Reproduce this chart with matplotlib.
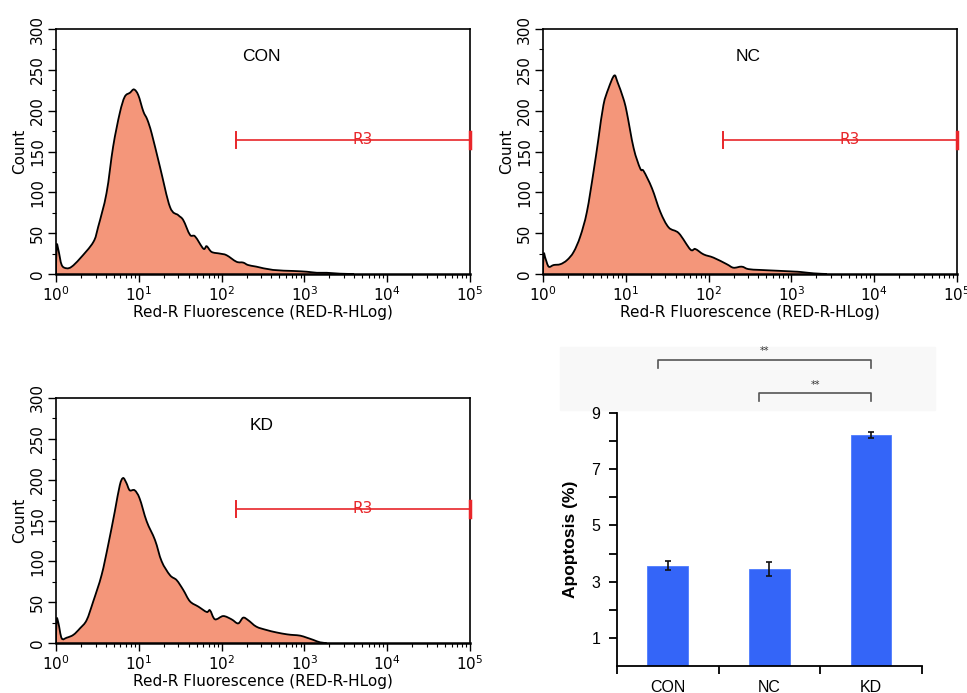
import numpy as np
import matplotlib
matplotlib.use("Agg")
import matplotlib.pyplot as plt
from matplotlib.ticker import FixedLocator, NullFormatter, LogLocator
from matplotlib.patches import Rectangle, PathPatch
from matplotlib.path import Path

# ---------------- data ----------------
samples = ["CON", "NC", "KD"]

con_logx = [0.0, 0.008, 0.03, 0.069, 0.129, 0.19, 0.29, 0.45, 0.51, 0.61, 0.69, 0.77, 0.83,
            0.894, 0.942, 0.994, 1.055, 1.103, 1.156, 1.256, 1.377, 1.477, 1.537, 1.618,
            1.68, 1.78, 1.82, 1.88, 1.98, 2.06, 2.18, 2.26, 2.32, 2.42, 2.62, 2.87, 3.03,
            3.15, 3.27, 3.43, 3.6]
con_count = [0, 35, 29, 11, 7, 9, 19, 39, 58, 99, 156, 197, 217,
             222, 226, 219, 199, 189, 172, 131, 82, 72, 66, 48,
             46, 31, 34, 27, 25, 23, 15, 14, 11, 9, 5, 3.7, 2.8,
             1.5, 1.5, 0.4, 0]

nc_logx = [0.0, 0.008, 0.03, 0.069, 0.129, 0.21, 0.29, 0.37, 0.45, 0.53, 0.61, 0.67, 0.73,
           0.79, 0.86, 0.90, 0.97, 1.01, 1.095, 1.175, 1.216, 1.316, 1.417, 1.518, 1.64,
           1.78, 1.84, 1.94, 2.06, 2.22, 2.30, 2.40, 2.48, 2.62, 2.83, 3.03, 3.11, 3.27,
           3.43]
nc_count = [0, 25, 19, 9, 11, 12, 17, 27, 46, 76, 125, 166, 207,
            227, 243, 235, 215, 199, 154, 129, 126, 105, 76, 57, 50,
            30, 30.6, 24, 20, 12, 7.7, 9, 6, 5, 4, 3, 2.5, 0.8,
            0]

kd_logx = [0.0, 0.008, 0.03, 0.069, 0.129, 0.21, 0.29, 0.37, 0.45, 0.55, 0.63, 0.71, 0.77,
           0.81, 0.85, 0.89, 0.95, 1.01, 1.095, 1.196, 1.276, 1.377, 1.457, 1.537, 1.618,
           1.72, 1.82, 1.86, 1.92, 2.02, 2.12, 2.20, 2.26, 2.32, 2.42, 2.54, 2.66, 2.79,
           2.87, 2.95, 3.03, 3.11, 3.19, 3.27]
kd_count = [0, 29, 24, 5.7, 6.5, 10, 18, 28, 51, 83, 120, 161, 193,
            202, 196, 187, 187, 177, 149, 126, 100, 83, 77, 65, 51,
            44.5, 38, 40, 29, 33, 29, 24, 31, 28, 20, 16, 13, 10.6,
            9.8, 9, 6.5, 3.7, 0.8, 0]

hist_logx = [con_logx, nc_logx, kd_logx]
hist_count = [con_count, nc_count, kd_count]

gate_name = "R3"
gate_range = [148, 1e5]
gate_level = 164

groups = ["CON", "NC", "KD"]
apoptosis = [3.57, 3.44, 8.21]
apoptosis_err = [0.16, 0.25, 0.11]
sig_pairs = [(0, 2), (1, 2)]
sig_labels = ["**", "**"]

# ---------------- figure ----------------
W, H = 967, 693
fig = plt.figure(figsize=(W / 100, H / 100), dpi=100)
plt.rcParams['font.family'] = ['DejaVu Sans']


def fx(px):
    return px / W


def fy(py):
    return 1 - py / H


def smooth_path(lx, cy, closed_fill):
    """Catmull-Rom curve through the read points, expressed as cubic Bezier
    segments (computed in log-x space, drawn on the log axis)."""
    lx = np.asarray(lx, float)
    cy = np.asarray(cy, float)
    n = len(lx)
    verts = [(10 ** lx[0], cy[0])]
    codes = [Path.MOVETO]
    for k in range(n - 1):
        p0 = np.array([lx[max(k - 1, 0)], cy[max(k - 1, 0)]])
        p1 = np.array([lx[k], cy[k]])
        p2 = np.array([lx[k + 1], cy[k + 1]])
        p3 = np.array([lx[min(k + 2, n - 1)], cy[min(k + 2, n - 1)]])
        c1 = p1 + (p2 - p0) / 6.0
        c2 = p2 - (p3 - p1) / 6.0
        c1[1] = max(c1[1], 0)
        c2[1] = max(c2[1], 0)
        for c in (c1, c2, p2):
            verts.append((10 ** c[0], c[1]))
            codes.append(Path.CURVE4)
    if closed_fill:
        verts.append((10 ** lx[0], 0))
        codes.append(Path.LINETO)
        verts.append((10 ** lx[0], 0))
        codes.append(Path.CLOSEPOLY)
    return Path(verts, codes)


fill_col = "#F4967A"
gate_col = "#E8262A"

hist_boxes = [(56, 29, 470, 274), (543, 29, 957, 274), (56, 398, 470, 643)]

for i, (l, t, r, b) in enumerate(hist_boxes):
    ax = fig.add_axes([fx(l), fy(b), fx(r - l), fy(t) - fy(b)])
    ax.set_xscale("log")
    ax.set_xlim(1, 1e5)
    ax.set_ylim(0, 300)
    ax.add_patch(PathPatch(smooth_path(hist_logx[i], hist_count[i], True),
                           facecolor=fill_col, edgecolor="none", zorder=1))
    ax.add_patch(PathPatch(smooth_path(hist_logx[i], hist_count[i], False),
                           facecolor="none", edgecolor="black", lw=1.3, zorder=2))
    ax.set_yticks([0, 50, 100, 150, 200, 250, 300])
    ax.yaxis.set_minor_locator(FixedLocator(np.arange(0, 301, 25)))
    ax.xaxis.set_major_locator(LogLocator(base=10, numticks=10))
    ax.xaxis.set_minor_locator(LogLocator(base=10, subs=np.arange(2, 10), numticks=20))
    ax.xaxis.set_minor_formatter(NullFormatter())
    ax.tick_params(axis="both", which="major", direction="out", length=6, width=1,
                   labelsize=11, colors="black")
    ax.tick_params(axis="both", which="minor", direction="out", length=3, width=0.8)
    for lab in ax.get_yticklabels():
        lab.set_rotation(90)
        lab.set_va("center")
    ax.tick_params(axis="y", pad=2)
    ax.tick_params(axis="x", pad=2)
    for s in ax.spines.values():
        s.set_linewidth(1.2)
    ax.spines["bottom"].set_linewidth(1.8)
    ax.set_ylabel("Count", fontsize=11, labelpad=2)
    ax.set_xlabel("Red-R Fluorescence (RED-R-HLog)", fontsize=11, labelpad=1)
    # sample name inside
    ax.text(10 ** 2.48, 266, samples[i], ha="center", va="center", fontsize=12.5,
            family="Liberation Sans")
    # gate
    g0, g1 = gate_range
    ax.plot([g0, g1], [gate_level, gate_level], color=gate_col, lw=1.2, zorder=3,
            clip_on=False)
    ax.plot([g0, g0], [gate_level - 10, gate_level + 10], color=gate_col, lw=1.4,
            zorder=3, clip_on=False)
    ax.plot([g1, g1], [gate_level - 10, gate_level + 10], color=gate_col, lw=2.5,
            zorder=3, clip_on=False)
    ax.text(10 ** 3.70, gate_level + 1, gate_name, color=gate_col, ha="center",
            va="center", fontsize=11)

# ---------------- bar chart ----------------
bg = Rectangle((fx(560), fy(410)), fx(935 - 560), fy(347) - fy(410),
               transform=fig.transFigure, color="#f8f8f8", zorder=-10)
fig.patches.append(bg)

bl, bt, br, bb = 617, 413, 922, 666
bax = fig.add_axes([fx(bl), fy(bb), fx(br - bl), fy(bt) - fy(bb)])
bax.set_zorder(5)
bax.patch.set_alpha(0)
pos = np.arange(len(groups))
bax.bar(pos, apoptosis, width=0.4, color="#3465F8", edgecolor="#4d7cff", lw=0.6,
        zorder=2)
bax.errorbar(pos, apoptosis, yerr=apoptosis_err, fmt="none", ecolor="#111111",
             elinewidth=1.2, capsize=2.5, capthick=1.2, zorder=3)
bax.set_xlim(-0.5, 2.5)
bax.set_ylim(0, 9)
bax.spines["top"].set_visible(False)
bax.spines["right"].set_visible(False)
bax.spines["left"].set_linewidth(1.3)
bax.spines["bottom"].set_linewidth(1.3)
bax.set_xticks([-0.5, 0.5, 1.5, 2.5])
bax.set_xticklabels([])
bax.xaxis.set_minor_locator(FixedLocator(pos))
bax.set_xticklabels(groups, minor=True)
bax.tick_params(axis="x", which="major", direction="out", length=6, width=1.3)
bax.tick_params(axis="x", which="minor", length=0, pad=10, labelsize=11.5)
bax.set_yticks([1, 3, 5, 7, 9])
bax.yaxis.set_minor_locator(FixedLocator([2, 4, 6, 8]))
bax.tick_params(axis="y", which="major", direction="out", length=6, width=1.3,
                labelsize=11.5, pad=6)
bax.tick_params(axis="y", which="minor", direction="out", length=6, width=1.3)
for lab in bax.get_xticklabels(minor=True) + bax.get_yticklabels():
    lab.set_family("Liberation Sans")
bax.set_ylabel("Apoptosis (%)", fontsize=12.5, fontweight="bold",
               family="Liberation Sans", labelpad=10)

# significance brackets (data coords above the axes)
bracket_y = [10.89, 9.71]
for (a, b2), lab, yv in zip(sig_pairs, sig_labels, bracket_y):
    xa, xb = pos[a] - 0.1, pos[b2]
    bax.plot([xa, xa, xb, xb], [yv - 0.28, yv, yv, yv - 0.28], color="#555555",
             lw=1.2, clip_on=False)
    bax.text((xa + xb) / 2, yv + 0.12, lab, ha="center", va="bottom", fontsize=7,
             color="#333333")

fig.savefig("out.png", dpi=100)
